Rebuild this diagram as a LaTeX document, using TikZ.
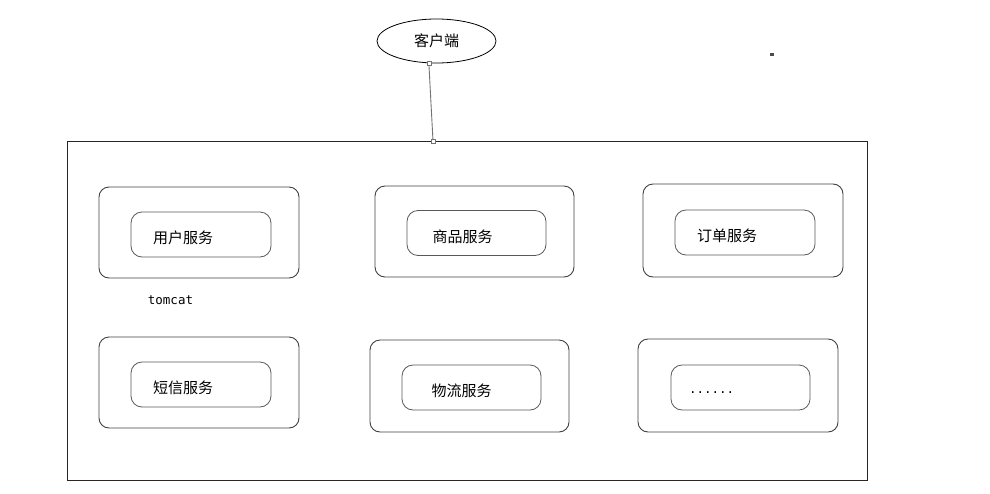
\documentclass[tikz,border=0pt]{standalone}
\usepackage{fontspec}
\newfontfamily\cjk{Noto Sans CJK SC}
\newfontfamily\mono{DejaVu Sans Mono}
\usetikzlibrary{shapes.geometric}

\tikzset{
  tomcatbox/.style={draw=black!75, line width=0.9pt, rounded corners=10pt},
  servicebox/.style={draw=black!65, line width=0.8pt, rounded corners=11pt,
    minimum height=45pt, text width=96pt, inner xsep=22pt, align=left,
    text height=19pt, text depth=1pt,
    font=\cjk\fontsize{15pt}{18pt}\selectfont},
  joint/.style={draw=black!55, fill=white, line width=0.5pt, inner sep=0pt,
    minimum size=4pt},
}

\begin{document}
\begin{tikzpicture}[x=1pt, y=-1pt]
  \useasboundingbox (0,0) rectangle (990,493);
  \node[draw, ellipse, line width=0.8pt, minimum width=119pt, minimum height=44pt,
    font=\cjk\fontsize{15pt}{18pt}\selectfont] (client) at (436.5,41) {客户端};
  \node[fill=black!70, minimum width=4pt, minimum height=3pt, inner sep=0pt] (dot) at (772,54) {};
  \node[draw=black!85, line width=0.9pt, minimum width=800pt, minimum height=339pt] (server) at (467,310.5) {};

  % tomcat boxes
  \node[tomcatbox, minimum width=200pt, minimum height=91pt] (tc1) at (199,232.5) {};
  \node[tomcatbox, minimum width=199pt, minimum height=91pt] (tc2) at (474.5,231.5) {};
  \node[tomcatbox, minimum width=200pt, minimum height=93pt] (tc3) at (743,230.5) {};
  \node[tomcatbox, minimum width=200pt, minimum height=91pt] (tc4) at (199,382.5) {};
  \node[tomcatbox, minimum width=199pt, minimum height=92pt] (tc5) at (469.5,386) {};
  \node[tomcatbox, minimum width=200pt, minimum height=93pt] (tc6) at (738,385.5) {};

  % services
  \node[servicebox] (user) at (201,234.5) {用户服务};
  \node[servicebox, text width=88pt, inner xsep=25.5pt] (goods) at (476.5,233) {商品服务};
  \node[servicebox] (order) at (745,232.5) {订单服务};
  \node[servicebox] (sms) at (201,384.5) {短信服务};
  \node[servicebox, text width=80pt, inner xsep=29.5pt] (logistics) at (471.5,387.5) {物流服务};
  \node[servicebox, text width=103pt, inner xsep=18pt, text height=11pt, text depth=0pt,
    font=\mono\fontsize{12.5pt}{15pt}\selectfont] (more) at (740.5,387.5) {......};

  \node[font=\mono\fontsize{12.5pt}{15pt}\selectfont] (tomcat) at (170.5,300) {tomcat};

  % client link
  \coordinate (top) at (433,141);
  \draw[draw=black!55, line width=0.9pt] (client.251) -- (top);
  \node[joint] at (client.251) {};
  \node[joint] at (top) {};
\end{tikzpicture}
\end{document}
